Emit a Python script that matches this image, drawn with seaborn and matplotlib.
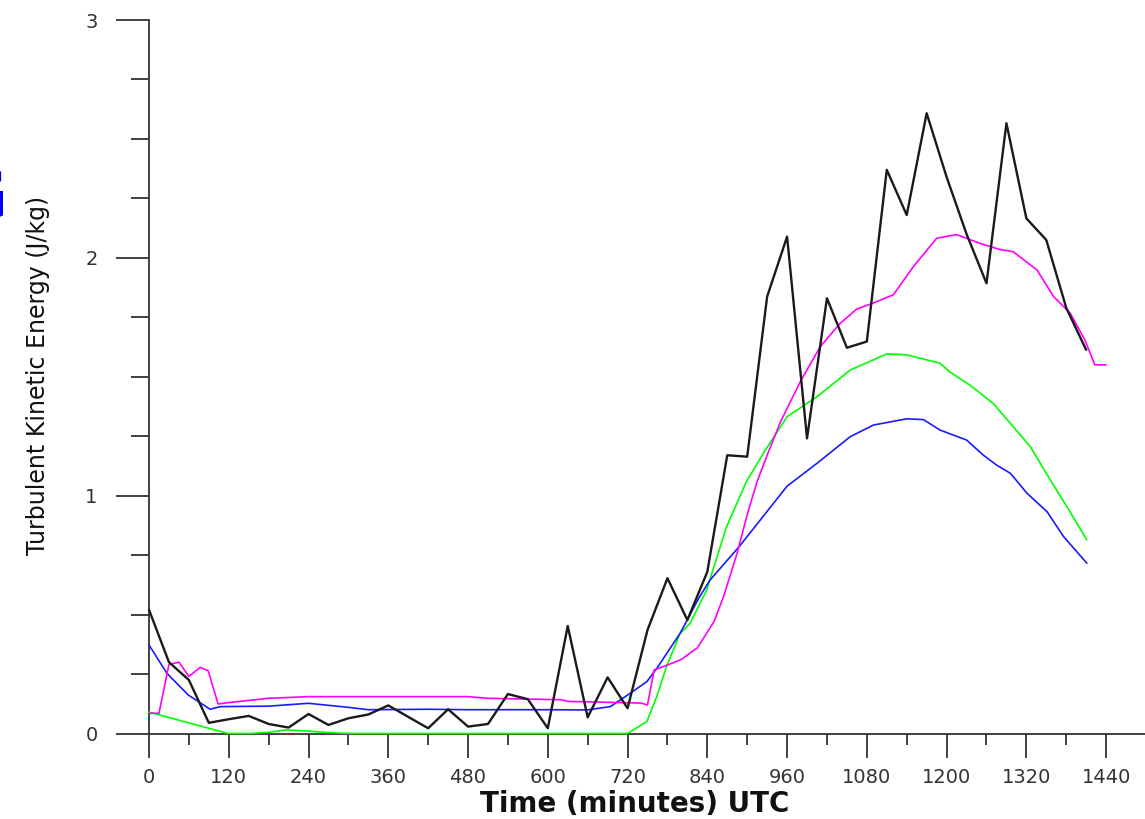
import numpy as np
import matplotlib
matplotlib.use("Agg")
import matplotlib.pyplot as plt
import seaborn as sns
import pandas as pd
from matplotlib import font_manager

# black series (30 min steps)
black_t = list(range(0, 1411, 30))
black_v = [0.52, 0.30, 0.225, 0.045, 0.06, 0.074, 0.04, 0.025, 0.082, 0.036,
           0.064, 0.08, 0.118, 0.07, 0.022, 0.102, 0.029, 0.04, 0.166, 0.144,
           0.022, 0.452, 0.068, 0.236, 0.106, 0.435, 0.653, 0.477, 0.68, 1.17,
           1.164, 1.837, 2.089, 1.241, 1.83, 1.622, 1.648, 2.37, 2.18, 2.608,
           2.34, 2.10, 1.893, 2.566, 2.166, 2.075, 1.79, 1.613]

magenta_t = [0, 15, 30, 45, 60, 77, 89, 104, 120, 180, 240, 480, 510, 620, 630,
             740, 750, 760, 780, 800, 825, 850, 865, 885, 900, 915, 930, 950,
             980, 1010, 1040, 1065, 1090, 1120, 1150, 1185, 1215, 1250, 1280,
             1300, 1336, 1361, 1386, 1408, 1423, 1440]
magenta_v = [0.085, 0.085, 0.29, 0.30, 0.24, 0.278, 0.264, 0.124, 0.13, 0.148,
             0.155, 0.155, 0.148, 0.142, 0.135, 0.128, 0.12, 0.267, 0.288, 0.31,
             0.36, 0.47, 0.58, 0.76, 0.92, 1.06, 1.17, 1.31, 1.48, 1.627, 1.725,
             1.785, 1.81, 1.845, 1.963, 2.082, 2.098, 2.061, 2.035, 2.026, 1.949,
             1.837, 1.767, 1.655, 1.55, 1.55]

blue_t = [0, 27, 59, 92, 107, 180, 240, 300, 330, 420, 480, 600, 659, 694, 724,
          749, 764, 799, 827, 844, 888, 960, 1005, 1055, 1090, 1140, 1165, 1190,
          1230, 1255, 1275, 1296, 1321, 1351, 1376, 1411]
blue_v = [0.372, 0.253, 0.162, 0.102, 0.113, 0.115, 0.127, 0.11, 0.10, 0.102,
          0.10, 0.10, 0.099, 0.113, 0.169, 0.218, 0.274, 0.421, 0.568, 0.645,
          0.786, 1.04, 1.136, 1.248, 1.297, 1.323, 1.32, 1.276, 1.234, 1.171,
          1.129, 1.094, 1.01, 0.933, 0.828, 0.716]

green_t = [0, 119, 150, 180, 207, 240, 270, 300, 720, 749, 764, 779, 799, 814,
           839, 869, 899, 927, 960, 1005, 1055, 1110, 1140, 1190, 1205, 1235,
           1270, 1296, 1326, 1356, 1381, 1411]
green_v = [0.09, 0.0, 0.0, 0.005, 0.015, 0.01, 0.004, 0.0, 0.0, 0.05, 0.155,
           0.285, 0.42, 0.463, 0.603, 0.87, 1.06, 1.19, 1.332, 1.416, 1.528,
           1.596, 1.592, 1.557, 1.52, 1.465, 1.388, 1.304, 1.206, 1.066, 0.954,
           0.814]

xticks = list(range(0, 1441, 120))
yticks = [0, 1, 2, 3]

sns.set_theme(style="white")
plt.rcParams['font.family'] = ['DejaVu Sans']

# pick a narrow face for the y label if one is installed
names = {f.name for f in font_manager.fontManager.ttflist}
narrow = [n for n in ["Liberation Sans Narrow", "DejaVu Sans Condensed"] if n in names]

fig = plt.figure(figsize=(11.45, 8.19), dpi=100)
ax = fig.add_axes([149 / 1145, 1 - 733.5 / 819, 997 / 1145, 713.5 / 819])

series = [(green_t, green_v, "#00ff00", 1.2),
          (blue_t, blue_v, "#1a1aff", 1.2),
          (magenta_t, magenta_v, "#ff00ff", 1.2),
          (black_t, black_v, "#1a1a1a", 1.7)]
for t, v, c, lw in series:
    sns.lineplot(x=t, y=v, color=c, linewidth=lw, ax=ax, estimator=None,
                 sort=False, zorder=3, clip_on=False)

ax.set_xlim(0, 1500)
ax.set_ylim(0, 3)
ax.set_xticks(xticks)
ax.set_xticks(list(range(60, 1501, 120)), minor=True)
ax.set_yticks(yticks)
ax.set_yticks([0.25, 0.5, 0.75, 1.25, 1.5, 1.75, 2.25, 2.5, 2.75], minor=True)
ax.set_xticklabels([str(x) for x in xticks])
ax.set_yticklabels([str(y) for y in yticks])

for s in ["top", "right"]:
    ax.spines[s].set_visible(False)
for s in ["left", "bottom"]:
    ax.spines[s].set_color("#333333")
    ax.spines[s].set_linewidth(1.3)

ax.tick_params(axis="x", which="major", direction="out", length=17, width=1.3,
               color="#333333", labelsize=14, labelcolor="#333333", pad=8, bottom=True)
ax.tick_params(axis="x", which="minor", direction="out", length=8, width=1.3,
               color="#333333", bottom=True)
ax.tick_params(axis="y", which="major", direction="out", length=24, width=1.3,
               color="#333333", labelsize=14, labelcolor="#333333", pad=13, left=True)
ax.tick_params(axis="y", which="minor", direction="out", length=13, width=1.3,
               color="#333333", left=True)
ax.grid(False)
ax.set_xlabel("")
ax.set_ylabel("")

fig.text(635 / 1145, 1 - 804 / 819, "Time (minutes) UTC", ha="center", va="center",
         fontsize=20, color="#111111", fontweight="bold")
if narrow:
    fig.text(38 / 1145, 1 - 375 / 819, "Turbulent Kinetic Energy (J/kg)", rotation=90,
             ha="center", va="center", fontsize=19, color="#111111",
             family=narrow + ["DejaVu Sans"])
else:
    fig.text(38 / 1145, 1 - 375 / 819, "Turbulent Kinetic Energy (J/kg)", rotation=90,
             ha="center", va="center", fontsize=17, color="#111111")
fig.text(8 / 1145, 1 - 200 / 819, "G", ha="right", va="center", fontsize=50,
         color="#0000ff", fontweight="bold")

fig.savefig("out.png", dpi=100)
